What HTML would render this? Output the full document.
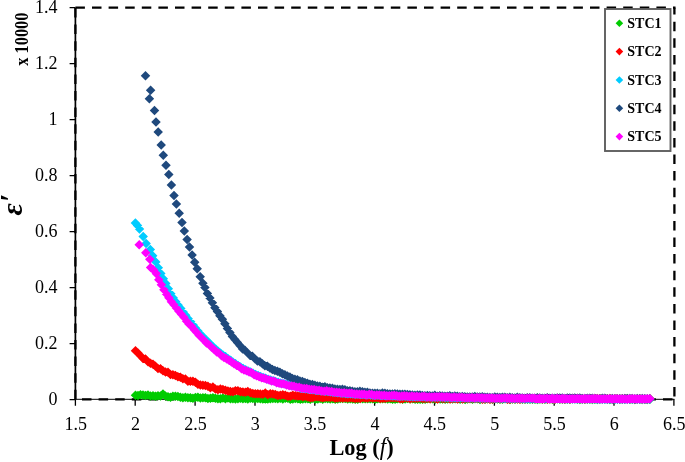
<!DOCTYPE html>
<html><head><meta charset="utf-8"><title>chart</title>
<style>html,body{margin:0;padding:0;background:#fff}body{width:685px;height:462px;position:relative;overflow:hidden}</style></head>
<body>
<svg width="685" height="462" viewBox="0 0 685 462" style="position:absolute;left:0;top:0">
<g stroke="#000" fill="none">
<path d="M75.4,7.7V399.3" stroke-width="1.7"/>
<path d="M75.4,399.3H674.4" stroke-width="1"/>
<path d="M69.6,399.6H75.4M69.6,343.6H75.4M69.6,287.6H75.4M69.6,231.6H75.4M69.6,175.6H75.4M69.6,119.6H75.4M69.6,63.6H75.4M69.6,7.6H75.4M75.4,399.3V405.8M135.2,399.3V405.8M195.1,399.3V405.8M255.0,399.3V405.8M314.8,399.3V405.8M374.6,399.3V405.8M434.5,399.3V405.8M494.4,399.3V405.8M554.2,399.3V405.8M614.0,399.3V405.8M673.9,399.3V405.8" stroke-width="1.3"/>
<path d="M75.4,7.7H675.5" stroke-width="2.3" stroke-dasharray="9.5,7.1"/>
<path d="M674.4,7.7V399.3" stroke-width="2.3" stroke-dasharray="9.5,7.1" stroke-dashoffset="2.6"/>
<path d="M75.4,399.3H674.4" stroke-width="2.3" stroke-dasharray="9.5,7.1" stroke-dashoffset="-6.6"/>
<path d="M75.4,7.7V399.3" stroke-width="2.3" stroke-dasharray="9.5,7.1" stroke-dashoffset="-0.3"/>
</g>
<path d="M135.5,390.6l4.75,4.75l-4.75,4.75l-4.75,-4.75zM138.0,390.8l4.75,4.75l-4.75,4.75l-4.75,-4.75zM140.5,390.0l4.75,4.75l-4.75,4.75l-4.75,-4.75zM143.0,390.3l4.75,4.75l-4.75,4.75l-4.75,-4.75zM145.5,390.7l4.75,4.75l-4.75,4.75l-4.75,-4.75zM148.0,390.2l4.75,4.75l-4.75,4.75l-4.75,-4.75zM150.5,391.3l4.75,4.75l-4.75,4.75l-4.75,-4.75zM153.0,391.1l4.75,4.75l-4.75,4.75l-4.75,-4.75zM155.5,391.5l4.75,4.75l-4.75,4.75l-4.75,-4.75zM158.0,391.0l4.75,4.75l-4.75,4.75l-4.75,-4.75zM160.5,391.2l4.75,4.75l-4.75,4.75l-4.75,-4.75zM163.0,389.3l4.75,4.75l-4.75,4.75l-4.75,-4.75zM165.5,391.2l4.75,4.75l-4.75,4.75l-4.75,-4.75zM168.0,391.9l4.75,4.75l-4.75,4.75l-4.75,-4.75zM170.5,392.4l4.75,4.75l-4.75,4.75l-4.75,-4.75zM172.9,391.5l4.75,4.75l-4.75,4.75l-4.75,-4.75zM175.4,391.6l4.75,4.75l-4.75,4.75l-4.75,-4.75zM177.9,391.8l4.75,4.75l-4.75,4.75l-4.75,-4.75zM180.4,392.4l4.75,4.75l-4.75,4.75l-4.75,-4.75zM182.9,393.0l4.75,4.75l-4.75,4.75l-4.75,-4.75zM185.4,392.5l4.75,4.75l-4.75,4.75l-4.75,-4.75zM187.9,392.9l4.75,4.75l-4.75,4.75l-4.75,-4.75zM190.4,393.0l4.75,4.75l-4.75,4.75l-4.75,-4.75zM192.9,393.4l4.75,4.75l-4.75,4.75l-4.75,-4.75zM195.4,392.7l4.75,4.75l-4.75,4.75l-4.75,-4.75zM197.9,392.6l4.75,4.75l-4.75,4.75l-4.75,-4.75zM200.4,393.2l4.75,4.75l-4.75,4.75l-4.75,-4.75zM202.9,393.1l4.75,4.75l-4.75,4.75l-4.75,-4.75zM205.4,393.1l4.75,4.75l-4.75,4.75l-4.75,-4.75zM207.9,393.7l4.75,4.75l-4.75,4.75l-4.75,-4.75zM210.4,393.6l4.75,4.75l-4.75,4.75l-4.75,-4.75zM212.9,393.1l4.75,4.75l-4.75,4.75l-4.75,-4.75zM215.4,393.6l4.75,4.75l-4.75,4.75l-4.75,-4.75zM217.9,393.9l4.75,4.75l-4.75,4.75l-4.75,-4.75zM220.4,394.0l4.75,4.75l-4.75,4.75l-4.75,-4.75zM222.9,393.2l4.75,4.75l-4.75,4.75l-4.75,-4.75zM225.4,394.0l4.75,4.75l-4.75,4.75l-4.75,-4.75zM227.9,393.3l4.75,4.75l-4.75,4.75l-4.75,-4.75zM230.4,394.0l4.75,4.75l-4.75,4.75l-4.75,-4.75zM232.9,393.9l4.75,4.75l-4.75,4.75l-4.75,-4.75zM235.4,394.3l4.75,4.75l-4.75,4.75l-4.75,-4.75zM237.9,394.0l4.75,4.75l-4.75,4.75l-4.75,-4.75zM240.4,393.5l4.75,4.75l-4.75,4.75l-4.75,-4.75zM242.9,394.1l4.75,4.75l-4.75,4.75l-4.75,-4.75zM245.4,393.7l4.75,4.75l-4.75,4.75l-4.75,-4.75zM247.8,394.2l4.75,4.75l-4.75,4.75l-4.75,-4.75zM250.3,393.5l4.75,4.75l-4.75,4.75l-4.75,-4.75zM252.8,393.8l4.75,4.75l-4.75,4.75l-4.75,-4.75zM255.3,394.1l4.75,4.75l-4.75,4.75l-4.75,-4.75zM257.8,393.7l4.75,4.75l-4.75,4.75l-4.75,-4.75zM260.3,394.1l4.75,4.75l-4.75,4.75l-4.75,-4.75zM262.8,394.2l4.75,4.75l-4.75,4.75l-4.75,-4.75zM265.3,394.2l4.75,4.75l-4.75,4.75l-4.75,-4.75zM267.8,394.3l4.75,4.75l-4.75,4.75l-4.75,-4.75zM270.3,393.9l4.75,4.75l-4.75,4.75l-4.75,-4.75zM272.8,393.7l4.75,4.75l-4.75,4.75l-4.75,-4.75zM275.3,393.8l4.75,4.75l-4.75,4.75l-4.75,-4.75zM277.8,393.9l4.75,4.75l-4.75,4.75l-4.75,-4.75zM280.3,393.6l4.75,4.75l-4.75,4.75l-4.75,-4.75zM282.8,394.2l4.75,4.75l-4.75,4.75l-4.75,-4.75zM285.3,393.6l4.75,4.75l-4.75,4.75l-4.75,-4.75zM287.8,393.6l4.75,4.75l-4.75,4.75l-4.75,-4.75zM290.3,394.4l4.75,4.75l-4.75,4.75l-4.75,-4.75zM292.8,394.3l4.75,4.75l-4.75,4.75l-4.75,-4.75zM295.3,393.8l4.75,4.75l-4.75,4.75l-4.75,-4.75zM297.8,393.9l4.75,4.75l-4.75,4.75l-4.75,-4.75zM300.3,394.4l4.75,4.75l-4.75,4.75l-4.75,-4.75zM302.8,394.2l4.75,4.75l-4.75,4.75l-4.75,-4.75zM305.3,393.9l4.75,4.75l-4.75,4.75l-4.75,-4.75zM307.8,394.0l4.75,4.75l-4.75,4.75l-4.75,-4.75zM310.3,394.4l4.75,4.75l-4.75,4.75l-4.75,-4.75zM312.8,393.6l4.75,4.75l-4.75,4.75l-4.75,-4.75zM315.3,394.5l4.75,4.75l-4.75,4.75l-4.75,-4.75zM317.8,394.2l4.75,4.75l-4.75,4.75l-4.75,-4.75zM320.2,393.8l4.75,4.75l-4.75,4.75l-4.75,-4.75zM322.7,394.4l4.75,4.75l-4.75,4.75l-4.75,-4.75zM325.2,393.7l4.75,4.75l-4.75,4.75l-4.75,-4.75zM327.7,394.0l4.75,4.75l-4.75,4.75l-4.75,-4.75zM330.2,394.2l4.75,4.75l-4.75,4.75l-4.75,-4.75zM332.7,393.9l4.75,4.75l-4.75,4.75l-4.75,-4.75zM335.2,394.5l4.75,4.75l-4.75,4.75l-4.75,-4.75zM337.7,394.3l4.75,4.75l-4.75,4.75l-4.75,-4.75zM340.2,393.8l4.75,4.75l-4.75,4.75l-4.75,-4.75zM342.7,393.8l4.75,4.75l-4.75,4.75l-4.75,-4.75zM345.2,393.7l4.75,4.75l-4.75,4.75l-4.75,-4.75zM347.7,394.2l4.75,4.75l-4.75,4.75l-4.75,-4.75zM350.2,393.9l4.75,4.75l-4.75,4.75l-4.75,-4.75zM352.7,394.2l4.75,4.75l-4.75,4.75l-4.75,-4.75zM355.2,394.4l4.75,4.75l-4.75,4.75l-4.75,-4.75zM357.7,394.5l4.75,4.75l-4.75,4.75l-4.75,-4.75zM360.2,393.8l4.75,4.75l-4.75,4.75l-4.75,-4.75zM362.7,394.0l4.75,4.75l-4.75,4.75l-4.75,-4.75zM365.2,394.1l4.75,4.75l-4.75,4.75l-4.75,-4.75zM367.7,394.1l4.75,4.75l-4.75,4.75l-4.75,-4.75zM370.2,394.1l4.75,4.75l-4.75,4.75l-4.75,-4.75zM372.7,394.1l4.75,4.75l-4.75,4.75l-4.75,-4.75zM375.2,394.4l4.75,4.75l-4.75,4.75l-4.75,-4.75zM377.7,394.0l4.75,4.75l-4.75,4.75l-4.75,-4.75zM380.2,394.0l4.75,4.75l-4.75,4.75l-4.75,-4.75zM382.7,394.1l4.75,4.75l-4.75,4.75l-4.75,-4.75zM385.2,393.9l4.75,4.75l-4.75,4.75l-4.75,-4.75zM387.7,394.3l4.75,4.75l-4.75,4.75l-4.75,-4.75zM390.2,394.1l4.75,4.75l-4.75,4.75l-4.75,-4.75zM392.6,394.6l4.75,4.75l-4.75,4.75l-4.75,-4.75zM395.1,394.5l4.75,4.75l-4.75,4.75l-4.75,-4.75zM397.6,394.0l4.75,4.75l-4.75,4.75l-4.75,-4.75zM400.1,394.0l4.75,4.75l-4.75,4.75l-4.75,-4.75zM402.6,394.5l4.75,4.75l-4.75,4.75l-4.75,-4.75zM405.1,394.3l4.75,4.75l-4.75,4.75l-4.75,-4.75zM407.6,393.8l4.75,4.75l-4.75,4.75l-4.75,-4.75zM410.1,394.3l4.75,4.75l-4.75,4.75l-4.75,-4.75zM412.6,394.1l4.75,4.75l-4.75,4.75l-4.75,-4.75zM415.1,394.5l4.75,4.75l-4.75,4.75l-4.75,-4.75zM417.6,394.4l4.75,4.75l-4.75,4.75l-4.75,-4.75zM420.1,394.6l4.75,4.75l-4.75,4.75l-4.75,-4.75zM422.6,394.4l4.75,4.75l-4.75,4.75l-4.75,-4.75zM425.1,394.6l4.75,4.75l-4.75,4.75l-4.75,-4.75zM427.6,394.0l4.75,4.75l-4.75,4.75l-4.75,-4.75zM430.1,394.1l4.75,4.75l-4.75,4.75l-4.75,-4.75zM432.6,393.9l4.75,4.75l-4.75,4.75l-4.75,-4.75zM435.1,394.6l4.75,4.75l-4.75,4.75l-4.75,-4.75zM437.6,393.9l4.75,4.75l-4.75,4.75l-4.75,-4.75zM440.1,394.3l4.75,4.75l-4.75,4.75l-4.75,-4.75zM442.6,394.3l4.75,4.75l-4.75,4.75l-4.75,-4.75zM445.1,394.5l4.75,4.75l-4.75,4.75l-4.75,-4.75zM447.6,394.2l4.75,4.75l-4.75,4.75l-4.75,-4.75zM450.1,394.0l4.75,4.75l-4.75,4.75l-4.75,-4.75zM452.6,394.2l4.75,4.75l-4.75,4.75l-4.75,-4.75zM455.1,393.9l4.75,4.75l-4.75,4.75l-4.75,-4.75zM457.6,394.1l4.75,4.75l-4.75,4.75l-4.75,-4.75zM460.1,394.4l4.75,4.75l-4.75,4.75l-4.75,-4.75zM462.6,393.9l4.75,4.75l-4.75,4.75l-4.75,-4.75zM465.1,394.7l4.75,4.75l-4.75,4.75l-4.75,-4.75zM467.5,394.3l4.75,4.75l-4.75,4.75l-4.75,-4.75zM470.0,394.1l4.75,4.75l-4.75,4.75l-4.75,-4.75zM472.5,394.6l4.75,4.75l-4.75,4.75l-4.75,-4.75zM475.0,394.0l4.75,4.75l-4.75,4.75l-4.75,-4.75zM477.5,394.1l4.75,4.75l-4.75,4.75l-4.75,-4.75zM480.0,394.7l4.75,4.75l-4.75,4.75l-4.75,-4.75zM482.5,394.1l4.75,4.75l-4.75,4.75l-4.75,-4.75zM485.0,394.5l4.75,4.75l-4.75,4.75l-4.75,-4.75zM487.5,393.9l4.75,4.75l-4.75,4.75l-4.75,-4.75zM490.0,394.3l4.75,4.75l-4.75,4.75l-4.75,-4.75zM492.5,394.4l4.75,4.75l-4.75,4.75l-4.75,-4.75zM495.0,394.1l4.75,4.75l-4.75,4.75l-4.75,-4.75zM497.5,394.2l4.75,4.75l-4.75,4.75l-4.75,-4.75zM500.0,394.4l4.75,4.75l-4.75,4.75l-4.75,-4.75zM502.5,394.4l4.75,4.75l-4.75,4.75l-4.75,-4.75zM505.0,394.0l4.75,4.75l-4.75,4.75l-4.75,-4.75zM507.5,394.2l4.75,4.75l-4.75,4.75l-4.75,-4.75zM510.0,394.7l4.75,4.75l-4.75,4.75l-4.75,-4.75zM512.5,394.2l4.75,4.75l-4.75,4.75l-4.75,-4.75zM515.0,394.6l4.75,4.75l-4.75,4.75l-4.75,-4.75zM517.5,394.1l4.75,4.75l-4.75,4.75l-4.75,-4.75zM520.0,394.3l4.75,4.75l-4.75,4.75l-4.75,-4.75zM522.5,394.4l4.75,4.75l-4.75,4.75l-4.75,-4.75zM525.0,394.4l4.75,4.75l-4.75,4.75l-4.75,-4.75zM527.5,394.5l4.75,4.75l-4.75,4.75l-4.75,-4.75zM530.0,394.6l4.75,4.75l-4.75,4.75l-4.75,-4.75zM532.5,394.5l4.75,4.75l-4.75,4.75l-4.75,-4.75zM535.0,394.6l4.75,4.75l-4.75,4.75l-4.75,-4.75zM537.5,394.7l4.75,4.75l-4.75,4.75l-4.75,-4.75zM539.9,394.2l4.75,4.75l-4.75,4.75l-4.75,-4.75zM542.4,394.6l4.75,4.75l-4.75,4.75l-4.75,-4.75zM544.9,394.4l4.75,4.75l-4.75,4.75l-4.75,-4.75zM547.4,394.2l4.75,4.75l-4.75,4.75l-4.75,-4.75zM549.9,394.1l4.75,4.75l-4.75,4.75l-4.75,-4.75zM552.4,394.6l4.75,4.75l-4.75,4.75l-4.75,-4.75zM554.9,394.5l4.75,4.75l-4.75,4.75l-4.75,-4.75zM557.4,394.0l4.75,4.75l-4.75,4.75l-4.75,-4.75zM559.9,394.4l4.75,4.75l-4.75,4.75l-4.75,-4.75zM562.4,394.0l4.75,4.75l-4.75,4.75l-4.75,-4.75zM564.9,394.3l4.75,4.75l-4.75,4.75l-4.75,-4.75zM567.4,394.4l4.75,4.75l-4.75,4.75l-4.75,-4.75zM569.9,394.5l4.75,4.75l-4.75,4.75l-4.75,-4.75zM572.4,394.1l4.75,4.75l-4.75,4.75l-4.75,-4.75zM574.9,394.0l4.75,4.75l-4.75,4.75l-4.75,-4.75zM577.4,394.5l4.75,4.75l-4.75,4.75l-4.75,-4.75zM579.9,394.7l4.75,4.75l-4.75,4.75l-4.75,-4.75zM582.4,394.6l4.75,4.75l-4.75,4.75l-4.75,-4.75zM584.9,394.3l4.75,4.75l-4.75,4.75l-4.75,-4.75zM587.4,394.5l4.75,4.75l-4.75,4.75l-4.75,-4.75zM589.9,394.6l4.75,4.75l-4.75,4.75l-4.75,-4.75zM592.4,394.7l4.75,4.75l-4.75,4.75l-4.75,-4.75zM594.9,394.4l4.75,4.75l-4.75,4.75l-4.75,-4.75zM597.4,394.7l4.75,4.75l-4.75,4.75l-4.75,-4.75zM599.9,394.3l4.75,4.75l-4.75,4.75l-4.75,-4.75zM602.4,394.2l4.75,4.75l-4.75,4.75l-4.75,-4.75zM604.9,394.2l4.75,4.75l-4.75,4.75l-4.75,-4.75zM607.4,394.6l4.75,4.75l-4.75,4.75l-4.75,-4.75zM609.9,394.7l4.75,4.75l-4.75,4.75l-4.75,-4.75zM612.4,394.4l4.75,4.75l-4.75,4.75l-4.75,-4.75zM614.8,394.6l4.75,4.75l-4.75,4.75l-4.75,-4.75zM617.3,394.1l4.75,4.75l-4.75,4.75l-4.75,-4.75zM619.8,394.4l4.75,4.75l-4.75,4.75l-4.75,-4.75zM622.3,394.4l4.75,4.75l-4.75,4.75l-4.75,-4.75zM624.8,394.4l4.75,4.75l-4.75,4.75l-4.75,-4.75zM627.3,394.2l4.75,4.75l-4.75,4.75l-4.75,-4.75zM629.8,394.5l4.75,4.75l-4.75,4.75l-4.75,-4.75zM632.3,394.6l4.75,4.75l-4.75,4.75l-4.75,-4.75zM634.8,394.6l4.75,4.75l-4.75,4.75l-4.75,-4.75zM637.3,394.6l4.75,4.75l-4.75,4.75l-4.75,-4.75zM639.8,394.4l4.75,4.75l-4.75,4.75l-4.75,-4.75zM642.3,394.7l4.75,4.75l-4.75,4.75l-4.75,-4.75zM644.8,394.5l4.75,4.75l-4.75,4.75l-4.75,-4.75zM647.3,394.8l4.75,4.75l-4.75,4.75l-4.75,-4.75zM649.8,394.4l4.75,4.75l-4.75,4.75l-4.75,-4.75z" fill="#00CC00"/>
<path d="M135.5,346.1l4.75,4.75l-4.75,4.75l-4.75,-4.75zM138.0,348.2l4.75,4.75l-4.75,4.75l-4.75,-4.75zM140.5,350.9l4.75,4.75l-4.75,4.75l-4.75,-4.75zM143.0,353.8l4.75,4.75l-4.75,4.75l-4.75,-4.75zM145.5,354.3l4.75,4.75l-4.75,4.75l-4.75,-4.75zM148.0,356.9l4.75,4.75l-4.75,4.75l-4.75,-4.75zM150.5,358.5l4.75,4.75l-4.75,4.75l-4.75,-4.75zM153.0,359.5l4.75,4.75l-4.75,4.75l-4.75,-4.75zM155.5,361.4l4.75,4.75l-4.75,4.75l-4.75,-4.75zM158.0,363.8l4.75,4.75l-4.75,4.75l-4.75,-4.75zM160.5,364.0l4.75,4.75l-4.75,4.75l-4.75,-4.75zM163.0,365.9l4.75,4.75l-4.75,4.75l-4.75,-4.75zM165.5,367.3l4.75,4.75l-4.75,4.75l-4.75,-4.75zM168.0,367.6l4.75,4.75l-4.75,4.75l-4.75,-4.75zM170.5,369.8l4.75,4.75l-4.75,4.75l-4.75,-4.75zM172.9,370.1l4.75,4.75l-4.75,4.75l-4.75,-4.75zM175.4,370.8l4.75,4.75l-4.75,4.75l-4.75,-4.75zM177.9,372.1l4.75,4.75l-4.75,4.75l-4.75,-4.75zM180.4,372.6l4.75,4.75l-4.75,4.75l-4.75,-4.75zM182.9,374.1l4.75,4.75l-4.75,4.75l-4.75,-4.75zM185.4,374.3l4.75,4.75l-4.75,4.75l-4.75,-4.75zM187.9,376.4l4.75,4.75l-4.75,4.75l-4.75,-4.75zM190.4,376.4l4.75,4.75l-4.75,4.75l-4.75,-4.75zM192.9,376.6l4.75,4.75l-4.75,4.75l-4.75,-4.75zM195.4,377.6l4.75,4.75l-4.75,4.75l-4.75,-4.75zM197.9,379.5l4.75,4.75l-4.75,4.75l-4.75,-4.75zM200.4,380.3l4.75,4.75l-4.75,4.75l-4.75,-4.75zM202.9,380.5l4.75,4.75l-4.75,4.75l-4.75,-4.75zM205.4,380.8l4.75,4.75l-4.75,4.75l-4.75,-4.75zM207.9,381.4l4.75,4.75l-4.75,4.75l-4.75,-4.75zM210.4,383.1l4.75,4.75l-4.75,4.75l-4.75,-4.75zM212.9,382.2l4.75,4.75l-4.75,4.75l-4.75,-4.75zM215.4,384.3l4.75,4.75l-4.75,4.75l-4.75,-4.75zM217.9,384.9l4.75,4.75l-4.75,4.75l-4.75,-4.75zM220.4,384.2l4.75,4.75l-4.75,4.75l-4.75,-4.75zM222.9,384.8l4.75,4.75l-4.75,4.75l-4.75,-4.75zM225.4,385.5l4.75,4.75l-4.75,4.75l-4.75,-4.75zM227.9,386.2l4.75,4.75l-4.75,4.75l-4.75,-4.75zM230.4,386.7l4.75,4.75l-4.75,4.75l-4.75,-4.75zM232.9,387.0l4.75,4.75l-4.75,4.75l-4.75,-4.75zM235.4,386.0l4.75,4.75l-4.75,4.75l-4.75,-4.75zM237.9,386.1l4.75,4.75l-4.75,4.75l-4.75,-4.75zM240.4,386.9l4.75,4.75l-4.75,4.75l-4.75,-4.75zM242.9,387.2l4.75,4.75l-4.75,4.75l-4.75,-4.75zM245.4,387.6l4.75,4.75l-4.75,4.75l-4.75,-4.75zM247.8,386.8l4.75,4.75l-4.75,4.75l-4.75,-4.75zM250.3,387.9l4.75,4.75l-4.75,4.75l-4.75,-4.75zM252.8,388.7l4.75,4.75l-4.75,4.75l-4.75,-4.75zM255.3,388.9l4.75,4.75l-4.75,4.75l-4.75,-4.75zM257.8,389.1l4.75,4.75l-4.75,4.75l-4.75,-4.75zM260.3,389.3l4.75,4.75l-4.75,4.75l-4.75,-4.75zM262.8,389.6l4.75,4.75l-4.75,4.75l-4.75,-4.75zM265.3,388.2l4.75,4.75l-4.75,4.75l-4.75,-4.75zM267.8,389.9l4.75,4.75l-4.75,4.75l-4.75,-4.75zM270.3,389.0l4.75,4.75l-4.75,4.75l-4.75,-4.75zM272.8,389.3l4.75,4.75l-4.75,4.75l-4.75,-4.75zM275.3,389.7l4.75,4.75l-4.75,4.75l-4.75,-4.75zM277.8,390.8l4.75,4.75l-4.75,4.75l-4.75,-4.75zM280.3,390.4l4.75,4.75l-4.75,4.75l-4.75,-4.75zM282.8,390.1l4.75,4.75l-4.75,4.75l-4.75,-4.75zM285.3,390.4l4.75,4.75l-4.75,4.75l-4.75,-4.75zM287.8,391.5l4.75,4.75l-4.75,4.75l-4.75,-4.75zM290.3,391.5l4.75,4.75l-4.75,4.75l-4.75,-4.75zM292.8,390.5l4.75,4.75l-4.75,4.75l-4.75,-4.75zM295.3,390.9l4.75,4.75l-4.75,4.75l-4.75,-4.75zM297.8,391.3l4.75,4.75l-4.75,4.75l-4.75,-4.75zM300.3,391.3l4.75,4.75l-4.75,4.75l-4.75,-4.75zM302.8,392.0l4.75,4.75l-4.75,4.75l-4.75,-4.75zM305.3,391.6l4.75,4.75l-4.75,4.75l-4.75,-4.75zM307.8,392.3l4.75,4.75l-4.75,4.75l-4.75,-4.75zM310.3,392.9l4.75,4.75l-4.75,4.75l-4.75,-4.75zM312.8,392.8l4.75,4.75l-4.75,4.75l-4.75,-4.75zM315.3,391.9l4.75,4.75l-4.75,4.75l-4.75,-4.75zM317.8,392.1l4.75,4.75l-4.75,4.75l-4.75,-4.75zM320.2,392.5l4.75,4.75l-4.75,4.75l-4.75,-4.75zM322.7,392.9l4.75,4.75l-4.75,4.75l-4.75,-4.75zM325.2,392.6l4.75,4.75l-4.75,4.75l-4.75,-4.75zM327.7,392.5l4.75,4.75l-4.75,4.75l-4.75,-4.75zM330.2,392.7l4.75,4.75l-4.75,4.75l-4.75,-4.75zM332.7,392.5l4.75,4.75l-4.75,4.75l-4.75,-4.75zM335.2,393.4l4.75,4.75l-4.75,4.75l-4.75,-4.75zM337.7,393.2l4.75,4.75l-4.75,4.75l-4.75,-4.75zM340.2,392.9l4.75,4.75l-4.75,4.75l-4.75,-4.75zM342.7,393.3l4.75,4.75l-4.75,4.75l-4.75,-4.75zM345.2,393.1l4.75,4.75l-4.75,4.75l-4.75,-4.75zM347.7,393.2l4.75,4.75l-4.75,4.75l-4.75,-4.75zM350.2,393.0l4.75,4.75l-4.75,4.75l-4.75,-4.75zM352.7,393.2l4.75,4.75l-4.75,4.75l-4.75,-4.75zM355.2,393.8l4.75,4.75l-4.75,4.75l-4.75,-4.75zM357.7,393.6l4.75,4.75l-4.75,4.75l-4.75,-4.75zM360.2,393.7l4.75,4.75l-4.75,4.75l-4.75,-4.75zM362.7,392.8l4.75,4.75l-4.75,4.75l-4.75,-4.75zM365.2,393.3l4.75,4.75l-4.75,4.75l-4.75,-4.75zM367.7,393.2l4.75,4.75l-4.75,4.75l-4.75,-4.75zM370.2,392.8l4.75,4.75l-4.75,4.75l-4.75,-4.75zM372.7,393.2l4.75,4.75l-4.75,4.75l-4.75,-4.75zM375.2,392.9l4.75,4.75l-4.75,4.75l-4.75,-4.75zM377.7,393.1l4.75,4.75l-4.75,4.75l-4.75,-4.75zM380.2,393.7l4.75,4.75l-4.75,4.75l-4.75,-4.75zM382.7,393.6l4.75,4.75l-4.75,4.75l-4.75,-4.75zM385.2,393.6l4.75,4.75l-4.75,4.75l-4.75,-4.75zM387.7,392.9l4.75,4.75l-4.75,4.75l-4.75,-4.75zM390.2,393.0l4.75,4.75l-4.75,4.75l-4.75,-4.75zM392.6,392.9l4.75,4.75l-4.75,4.75l-4.75,-4.75zM395.1,393.0l4.75,4.75l-4.75,4.75l-4.75,-4.75zM397.6,393.0l4.75,4.75l-4.75,4.75l-4.75,-4.75zM400.1,394.0l4.75,4.75l-4.75,4.75l-4.75,-4.75zM402.6,393.9l4.75,4.75l-4.75,4.75l-4.75,-4.75zM405.1,393.1l4.75,4.75l-4.75,4.75l-4.75,-4.75zM407.6,393.2l4.75,4.75l-4.75,4.75l-4.75,-4.75zM410.1,394.0l4.75,4.75l-4.75,4.75l-4.75,-4.75zM412.6,393.6l4.75,4.75l-4.75,4.75l-4.75,-4.75zM415.1,393.4l4.75,4.75l-4.75,4.75l-4.75,-4.75zM417.6,393.5l4.75,4.75l-4.75,4.75l-4.75,-4.75zM420.1,393.3l4.75,4.75l-4.75,4.75l-4.75,-4.75zM422.6,393.7l4.75,4.75l-4.75,4.75l-4.75,-4.75zM425.1,393.8l4.75,4.75l-4.75,4.75l-4.75,-4.75zM427.6,393.6l4.75,4.75l-4.75,4.75l-4.75,-4.75zM430.1,394.0l4.75,4.75l-4.75,4.75l-4.75,-4.75zM432.6,393.2l4.75,4.75l-4.75,4.75l-4.75,-4.75zM435.1,393.7l4.75,4.75l-4.75,4.75l-4.75,-4.75zM437.6,394.2l4.75,4.75l-4.75,4.75l-4.75,-4.75zM440.1,393.3l4.75,4.75l-4.75,4.75l-4.75,-4.75zM442.6,393.7l4.75,4.75l-4.75,4.75l-4.75,-4.75zM445.1,393.8l4.75,4.75l-4.75,4.75l-4.75,-4.75zM447.6,393.5l4.75,4.75l-4.75,4.75l-4.75,-4.75zM450.1,394.2l4.75,4.75l-4.75,4.75l-4.75,-4.75zM452.6,393.7l4.75,4.75l-4.75,4.75l-4.75,-4.75zM455.1,393.7l4.75,4.75l-4.75,4.75l-4.75,-4.75zM457.6,394.2l4.75,4.75l-4.75,4.75l-4.75,-4.75zM460.1,393.2l4.75,4.75l-4.75,4.75l-4.75,-4.75zM462.6,394.2l4.75,4.75l-4.75,4.75l-4.75,-4.75zM465.1,393.4l4.75,4.75l-4.75,4.75l-4.75,-4.75zM467.5,393.7l4.75,4.75l-4.75,4.75l-4.75,-4.75zM470.0,393.8l4.75,4.75l-4.75,4.75l-4.75,-4.75zM472.5,393.8l4.75,4.75l-4.75,4.75l-4.75,-4.75zM475.0,393.4l4.75,4.75l-4.75,4.75l-4.75,-4.75zM477.5,393.7l4.75,4.75l-4.75,4.75l-4.75,-4.75zM480.0,393.7l4.75,4.75l-4.75,4.75l-4.75,-4.75zM482.5,394.4l4.75,4.75l-4.75,4.75l-4.75,-4.75zM485.0,394.3l4.75,4.75l-4.75,4.75l-4.75,-4.75zM487.5,394.0l4.75,4.75l-4.75,4.75l-4.75,-4.75zM490.0,394.4l4.75,4.75l-4.75,4.75l-4.75,-4.75zM492.5,394.3l4.75,4.75l-4.75,4.75l-4.75,-4.75zM495.0,393.8l4.75,4.75l-4.75,4.75l-4.75,-4.75zM497.5,393.5l4.75,4.75l-4.75,4.75l-4.75,-4.75zM500.0,394.1l4.75,4.75l-4.75,4.75l-4.75,-4.75zM502.5,393.8l4.75,4.75l-4.75,4.75l-4.75,-4.75zM505.0,393.5l4.75,4.75l-4.75,4.75l-4.75,-4.75zM507.5,394.5l4.75,4.75l-4.75,4.75l-4.75,-4.75zM510.0,394.5l4.75,4.75l-4.75,4.75l-4.75,-4.75zM512.5,394.0l4.75,4.75l-4.75,4.75l-4.75,-4.75zM515.0,394.1l4.75,4.75l-4.75,4.75l-4.75,-4.75zM517.5,394.2l4.75,4.75l-4.75,4.75l-4.75,-4.75zM520.0,394.4l4.75,4.75l-4.75,4.75l-4.75,-4.75zM522.5,394.0l4.75,4.75l-4.75,4.75l-4.75,-4.75zM525.0,394.1l4.75,4.75l-4.75,4.75l-4.75,-4.75zM527.5,393.8l4.75,4.75l-4.75,4.75l-4.75,-4.75zM530.0,393.8l4.75,4.75l-4.75,4.75l-4.75,-4.75zM532.5,394.1l4.75,4.75l-4.75,4.75l-4.75,-4.75zM535.0,393.8l4.75,4.75l-4.75,4.75l-4.75,-4.75zM537.5,393.6l4.75,4.75l-4.75,4.75l-4.75,-4.75zM539.9,393.9l4.75,4.75l-4.75,4.75l-4.75,-4.75zM542.4,394.3l4.75,4.75l-4.75,4.75l-4.75,-4.75zM544.9,393.9l4.75,4.75l-4.75,4.75l-4.75,-4.75zM547.4,394.5l4.75,4.75l-4.75,4.75l-4.75,-4.75zM549.9,394.3l4.75,4.75l-4.75,4.75l-4.75,-4.75zM552.4,394.3l4.75,4.75l-4.75,4.75l-4.75,-4.75zM554.9,394.5l4.75,4.75l-4.75,4.75l-4.75,-4.75zM557.4,393.7l4.75,4.75l-4.75,4.75l-4.75,-4.75zM559.9,393.8l4.75,4.75l-4.75,4.75l-4.75,-4.75zM562.4,394.5l4.75,4.75l-4.75,4.75l-4.75,-4.75zM564.9,394.5l4.75,4.75l-4.75,4.75l-4.75,-4.75zM567.4,393.7l4.75,4.75l-4.75,4.75l-4.75,-4.75zM569.9,394.4l4.75,4.75l-4.75,4.75l-4.75,-4.75zM572.4,393.7l4.75,4.75l-4.75,4.75l-4.75,-4.75zM574.9,393.8l4.75,4.75l-4.75,4.75l-4.75,-4.75zM577.4,393.8l4.75,4.75l-4.75,4.75l-4.75,-4.75zM579.9,394.0l4.75,4.75l-4.75,4.75l-4.75,-4.75zM582.4,394.1l4.75,4.75l-4.75,4.75l-4.75,-4.75zM584.9,394.6l4.75,4.75l-4.75,4.75l-4.75,-4.75zM587.4,394.1l4.75,4.75l-4.75,4.75l-4.75,-4.75zM589.9,393.8l4.75,4.75l-4.75,4.75l-4.75,-4.75zM592.4,394.0l4.75,4.75l-4.75,4.75l-4.75,-4.75zM594.9,393.7l4.75,4.75l-4.75,4.75l-4.75,-4.75zM597.4,393.7l4.75,4.75l-4.75,4.75l-4.75,-4.75zM599.9,394.1l4.75,4.75l-4.75,4.75l-4.75,-4.75zM602.4,394.2l4.75,4.75l-4.75,4.75l-4.75,-4.75zM604.9,394.0l4.75,4.75l-4.75,4.75l-4.75,-4.75zM607.4,394.1l4.75,4.75l-4.75,4.75l-4.75,-4.75zM609.9,393.8l4.75,4.75l-4.75,4.75l-4.75,-4.75zM612.4,394.4l4.75,4.75l-4.75,4.75l-4.75,-4.75zM614.8,394.1l4.75,4.75l-4.75,4.75l-4.75,-4.75zM617.3,393.9l4.75,4.75l-4.75,4.75l-4.75,-4.75zM619.8,394.2l4.75,4.75l-4.75,4.75l-4.75,-4.75zM622.3,394.0l4.75,4.75l-4.75,4.75l-4.75,-4.75zM624.8,394.0l4.75,4.75l-4.75,4.75l-4.75,-4.75zM627.3,393.9l4.75,4.75l-4.75,4.75l-4.75,-4.75zM629.8,394.5l4.75,4.75l-4.75,4.75l-4.75,-4.75zM632.3,394.0l4.75,4.75l-4.75,4.75l-4.75,-4.75zM634.8,394.7l4.75,4.75l-4.75,4.75l-4.75,-4.75zM637.3,394.2l4.75,4.75l-4.75,4.75l-4.75,-4.75zM639.8,393.9l4.75,4.75l-4.75,4.75l-4.75,-4.75zM642.3,394.4l4.75,4.75l-4.75,4.75l-4.75,-4.75zM644.8,394.5l4.75,4.75l-4.75,4.75l-4.75,-4.75zM647.3,394.6l4.75,4.75l-4.75,4.75l-4.75,-4.75zM649.8,393.9l4.75,4.75l-4.75,4.75l-4.75,-4.75z" fill="#FF0000"/>
<path d="M135.4,218.2l4.75,4.75l-4.75,4.75l-4.75,-4.75zM137.5,220.8l4.75,4.75l-4.75,4.75l-4.75,-4.75zM139.5,224.3l4.75,4.75l-4.75,4.75l-4.75,-4.75zM143.2,231.7l4.75,4.75l-4.75,4.75l-4.75,-4.75zM146.1,238.8l4.75,4.75l-4.75,4.75l-4.75,-4.75zM150.3,244.8l4.75,4.75l-4.75,4.75l-4.75,-4.75zM152.7,251.1l4.75,4.75l-4.75,4.75l-4.75,-4.75zM155.8,257.2l4.75,4.75l-4.75,4.75l-4.75,-4.75zM158.3,262.9l4.75,4.75l-4.75,4.75l-4.75,-4.75zM160.8,268.8l4.75,4.75l-4.75,4.75l-4.75,-4.75zM163.3,274.0l4.75,4.75l-4.75,4.75l-4.75,-4.75zM165.8,278.7l4.75,4.75l-4.75,4.75l-4.75,-4.75zM168.3,283.9l4.75,4.75l-4.75,4.75l-4.75,-4.75zM170.8,288.9l4.75,4.75l-4.75,4.75l-4.75,-4.75zM173.3,293.2l4.75,4.75l-4.75,4.75l-4.75,-4.75zM175.8,297.0l4.75,4.75l-4.75,4.75l-4.75,-4.75zM178.3,300.4l4.75,4.75l-4.75,4.75l-4.75,-4.75zM180.8,303.8l4.75,4.75l-4.75,4.75l-4.75,-4.75zM183.2,307.2l4.75,4.75l-4.75,4.75l-4.75,-4.75zM185.7,310.6l4.75,4.75l-4.75,4.75l-4.75,-4.75zM188.2,313.9l4.75,4.75l-4.75,4.75l-4.75,-4.75zM190.7,317.1l4.75,4.75l-4.75,4.75l-4.75,-4.75zM193.2,320.3l4.75,4.75l-4.75,4.75l-4.75,-4.75zM195.7,323.5l4.75,4.75l-4.75,4.75l-4.75,-4.75zM198.2,326.6l4.75,4.75l-4.75,4.75l-4.75,-4.75zM200.7,329.4l4.75,4.75l-4.75,4.75l-4.75,-4.75zM203.2,332.1l4.75,4.75l-4.75,4.75l-4.75,-4.75zM205.7,334.7l4.75,4.75l-4.75,4.75l-4.75,-4.75zM208.2,337.1l4.75,4.75l-4.75,4.75l-4.75,-4.75zM210.7,339.5l4.75,4.75l-4.75,4.75l-4.75,-4.75zM213.2,341.9l4.75,4.75l-4.75,4.75l-4.75,-4.75zM215.7,344.2l4.75,4.75l-4.75,4.75l-4.75,-4.75zM218.2,346.4l4.75,4.75l-4.75,4.75l-4.75,-4.75zM220.7,348.5l4.75,4.75l-4.75,4.75l-4.75,-4.75zM223.2,350.4l4.75,4.75l-4.75,4.75l-4.75,-4.75zM225.7,352.1l4.75,4.75l-4.75,4.75l-4.75,-4.75zM228.2,353.9l4.75,4.75l-4.75,4.75l-4.75,-4.75zM230.7,355.6l4.75,4.75l-4.75,4.75l-4.75,-4.75zM233.1,357.4l4.75,4.75l-4.75,4.75l-4.75,-4.75zM235.6,359.1l4.75,4.75l-4.75,4.75l-4.75,-4.75zM238.1,360.8l4.75,4.75l-4.75,4.75l-4.75,-4.75zM240.6,362.3l4.75,4.75l-4.75,4.75l-4.75,-4.75zM243.1,363.7l4.75,4.75l-4.75,4.75l-4.75,-4.75zM245.6,365.0l4.75,4.75l-4.75,4.75l-4.75,-4.75zM248.1,366.2l4.75,4.75l-4.75,4.75l-4.75,-4.75zM250.6,367.3l4.75,4.75l-4.75,4.75l-4.75,-4.75zM253.1,368.5l4.75,4.75l-4.75,4.75l-4.75,-4.75zM255.6,369.7l4.75,4.75l-4.75,4.75l-4.75,-4.75zM258.1,370.8l4.75,4.75l-4.75,4.75l-4.75,-4.75zM260.6,371.8l4.75,4.75l-4.75,4.75l-4.75,-4.75zM263.1,372.7l4.75,4.75l-4.75,4.75l-4.75,-4.75zM265.6,373.6l4.75,4.75l-4.75,4.75l-4.75,-4.75zM268.1,374.4l4.75,4.75l-4.75,4.75l-4.75,-4.75zM270.6,375.2l4.75,4.75l-4.75,4.75l-4.75,-4.75zM273.1,376.0l4.75,4.75l-4.75,4.75l-4.75,-4.75zM275.6,376.8l4.75,4.75l-4.75,4.75l-4.75,-4.75zM278.1,377.5l4.75,4.75l-4.75,4.75l-4.75,-4.75zM280.6,378.2l4.75,4.75l-4.75,4.75l-4.75,-4.75zM283.0,378.8l4.75,4.75l-4.75,4.75l-4.75,-4.75zM285.5,379.3l4.75,4.75l-4.75,4.75l-4.75,-4.75zM288.0,379.8l4.75,4.75l-4.75,4.75l-4.75,-4.75zM290.5,380.4l4.75,4.75l-4.75,4.75l-4.75,-4.75zM293.0,381.0l4.75,4.75l-4.75,4.75l-4.75,-4.75zM295.5,381.5l4.75,4.75l-4.75,4.75l-4.75,-4.75zM298.0,382.1l4.75,4.75l-4.75,4.75l-4.75,-4.75zM300.5,383.4l4.75,4.75l-4.75,4.75l-4.75,-4.75zM303.0,383.8l4.75,4.75l-4.75,4.75l-4.75,-4.75zM305.5,384.1l4.75,4.75l-4.75,4.75l-4.75,-4.75zM308.0,384.5l4.75,4.75l-4.75,4.75l-4.75,-4.75zM310.5,384.8l4.75,4.75l-4.75,4.75l-4.75,-4.75zM313.0,385.1l4.75,4.75l-4.75,4.75l-4.75,-4.75zM315.5,385.4l4.75,4.75l-4.75,4.75l-4.75,-4.75zM318.0,385.7l4.75,4.75l-4.75,4.75l-4.75,-4.75zM320.5,386.0l4.75,4.75l-4.75,4.75l-4.75,-4.75zM323.0,386.3l4.75,4.75l-4.75,4.75l-4.75,-4.75zM325.5,386.6l4.75,4.75l-4.75,4.75l-4.75,-4.75zM328.0,386.8l4.75,4.75l-4.75,4.75l-4.75,-4.75zM330.4,387.1l4.75,4.75l-4.75,4.75l-4.75,-4.75zM332.9,387.4l4.75,4.75l-4.75,4.75l-4.75,-4.75zM335.4,387.6l4.75,4.75l-4.75,4.75l-4.75,-4.75zM337.9,387.9l4.75,4.75l-4.75,4.75l-4.75,-4.75zM340.4,388.2l4.75,4.75l-4.75,4.75l-4.75,-4.75zM342.9,388.4l4.75,4.75l-4.75,4.75l-4.75,-4.75zM345.4,388.7l4.75,4.75l-4.75,4.75l-4.75,-4.75zM347.9,388.9l4.75,4.75l-4.75,4.75l-4.75,-4.75zM350.4,389.1l4.75,4.75l-4.75,4.75l-4.75,-4.75zM352.9,389.2l4.75,4.75l-4.75,4.75l-4.75,-4.75zM355.4,389.4l4.75,4.75l-4.75,4.75l-4.75,-4.75zM357.9,389.5l4.75,4.75l-4.75,4.75l-4.75,-4.75zM360.4,389.7l4.75,4.75l-4.75,4.75l-4.75,-4.75zM362.9,389.8l4.75,4.75l-4.75,4.75l-4.75,-4.75zM365.4,390.0l4.75,4.75l-4.75,4.75l-4.75,-4.75zM367.9,390.1l4.75,4.75l-4.75,4.75l-4.75,-4.75zM370.4,390.3l4.75,4.75l-4.75,4.75l-4.75,-4.75zM372.9,390.4l4.75,4.75l-4.75,4.75l-4.75,-4.75zM375.4,390.5l4.75,4.75l-4.75,4.75l-4.75,-4.75zM377.9,390.6l4.75,4.75l-4.75,4.75l-4.75,-4.75zM380.3,390.7l4.75,4.75l-4.75,4.75l-4.75,-4.75zM382.8,390.8l4.75,4.75l-4.75,4.75l-4.75,-4.75zM385.3,390.9l4.75,4.75l-4.75,4.75l-4.75,-4.75zM387.8,391.0l4.75,4.75l-4.75,4.75l-4.75,-4.75zM390.3,391.1l4.75,4.75l-4.75,4.75l-4.75,-4.75zM392.8,391.2l4.75,4.75l-4.75,4.75l-4.75,-4.75zM395.3,391.3l4.75,4.75l-4.75,4.75l-4.75,-4.75zM397.8,391.4l4.75,4.75l-4.75,4.75l-4.75,-4.75zM400.3,391.5l4.75,4.75l-4.75,4.75l-4.75,-4.75zM402.8,391.6l4.75,4.75l-4.75,4.75l-4.75,-4.75zM405.3,391.6l4.75,4.75l-4.75,4.75l-4.75,-4.75zM407.8,391.7l4.75,4.75l-4.75,4.75l-4.75,-4.75zM410.3,391.8l4.75,4.75l-4.75,4.75l-4.75,-4.75zM412.8,391.9l4.75,4.75l-4.75,4.75l-4.75,-4.75zM415.3,391.9l4.75,4.75l-4.75,4.75l-4.75,-4.75zM417.8,392.0l4.75,4.75l-4.75,4.75l-4.75,-4.75zM420.3,392.1l4.75,4.75l-4.75,4.75l-4.75,-4.75zM422.8,392.1l4.75,4.75l-4.75,4.75l-4.75,-4.75zM425.3,392.2l4.75,4.75l-4.75,4.75l-4.75,-4.75zM427.8,392.3l4.75,4.75l-4.75,4.75l-4.75,-4.75zM430.2,392.3l4.75,4.75l-4.75,4.75l-4.75,-4.75zM432.7,392.4l4.75,4.75l-4.75,4.75l-4.75,-4.75zM435.2,392.4l4.75,4.75l-4.75,4.75l-4.75,-4.75zM437.7,392.5l4.75,4.75l-4.75,4.75l-4.75,-4.75zM440.2,392.6l4.75,4.75l-4.75,4.75l-4.75,-4.75zM442.7,392.6l4.75,4.75l-4.75,4.75l-4.75,-4.75zM445.2,392.7l4.75,4.75l-4.75,4.75l-4.75,-4.75zM447.7,392.7l4.75,4.75l-4.75,4.75l-4.75,-4.75zM450.2,392.8l4.75,4.75l-4.75,4.75l-4.75,-4.75zM452.7,392.9l4.75,4.75l-4.75,4.75l-4.75,-4.75zM455.2,392.9l4.75,4.75l-4.75,4.75l-4.75,-4.75zM457.7,393.0l4.75,4.75l-4.75,4.75l-4.75,-4.75zM460.2,393.0l4.75,4.75l-4.75,4.75l-4.75,-4.75zM462.7,393.1l4.75,4.75l-4.75,4.75l-4.75,-4.75zM465.2,393.1l4.75,4.75l-4.75,4.75l-4.75,-4.75zM467.7,393.2l4.75,4.75l-4.75,4.75l-4.75,-4.75zM470.2,393.2l4.75,4.75l-4.75,4.75l-4.75,-4.75zM472.7,393.2l4.75,4.75l-4.75,4.75l-4.75,-4.75zM475.2,393.3l4.75,4.75l-4.75,4.75l-4.75,-4.75zM477.7,393.3l4.75,4.75l-4.75,4.75l-4.75,-4.75zM480.1,393.4l4.75,4.75l-4.75,4.75l-4.75,-4.75zM482.6,393.4l4.75,4.75l-4.75,4.75l-4.75,-4.75zM485.1,393.4l4.75,4.75l-4.75,4.75l-4.75,-4.75zM487.6,393.5l4.75,4.75l-4.75,4.75l-4.75,-4.75zM490.1,393.5l4.75,4.75l-4.75,4.75l-4.75,-4.75zM492.6,393.5l4.75,4.75l-4.75,4.75l-4.75,-4.75zM495.1,393.6l4.75,4.75l-4.75,4.75l-4.75,-4.75zM497.6,393.6l4.75,4.75l-4.75,4.75l-4.75,-4.75zM500.1,393.6l4.75,4.75l-4.75,4.75l-4.75,-4.75zM502.6,393.7l4.75,4.75l-4.75,4.75l-4.75,-4.75zM505.1,393.7l4.75,4.75l-4.75,4.75l-4.75,-4.75zM507.6,393.7l4.75,4.75l-4.75,4.75l-4.75,-4.75zM510.1,393.7l4.75,4.75l-4.75,4.75l-4.75,-4.75zM512.6,393.8l4.75,4.75l-4.75,4.75l-4.75,-4.75zM515.1,393.8l4.75,4.75l-4.75,4.75l-4.75,-4.75zM517.6,393.8l4.75,4.75l-4.75,4.75l-4.75,-4.75zM520.1,393.8l4.75,4.75l-4.75,4.75l-4.75,-4.75zM522.6,393.9l4.75,4.75l-4.75,4.75l-4.75,-4.75zM525.1,393.9l4.75,4.75l-4.75,4.75l-4.75,-4.75zM527.5,393.9l4.75,4.75l-4.75,4.75l-4.75,-4.75zM530.0,393.9l4.75,4.75l-4.75,4.75l-4.75,-4.75zM532.5,394.0l4.75,4.75l-4.75,4.75l-4.75,-4.75zM535.0,394.0l4.75,4.75l-4.75,4.75l-4.75,-4.75zM537.5,394.0l4.75,4.75l-4.75,4.75l-4.75,-4.75zM540.0,394.0l4.75,4.75l-4.75,4.75l-4.75,-4.75zM542.5,394.0l4.75,4.75l-4.75,4.75l-4.75,-4.75zM545.0,394.0l4.75,4.75l-4.75,4.75l-4.75,-4.75zM547.5,394.1l4.75,4.75l-4.75,4.75l-4.75,-4.75zM550.0,394.1l4.75,4.75l-4.75,4.75l-4.75,-4.75zM552.5,394.1l4.75,4.75l-4.75,4.75l-4.75,-4.75zM555.0,394.1l4.75,4.75l-4.75,4.75l-4.75,-4.75zM557.5,394.1l4.75,4.75l-4.75,4.75l-4.75,-4.75zM560.0,394.1l4.75,4.75l-4.75,4.75l-4.75,-4.75zM562.5,394.2l4.75,4.75l-4.75,4.75l-4.75,-4.75zM565.0,394.2l4.75,4.75l-4.75,4.75l-4.75,-4.75zM567.5,394.2l4.75,4.75l-4.75,4.75l-4.75,-4.75zM570.0,394.2l4.75,4.75l-4.75,4.75l-4.75,-4.75zM572.5,394.2l4.75,4.75l-4.75,4.75l-4.75,-4.75zM575.0,394.2l4.75,4.75l-4.75,4.75l-4.75,-4.75zM577.4,394.3l4.75,4.75l-4.75,4.75l-4.75,-4.75zM579.9,394.3l4.75,4.75l-4.75,4.75l-4.75,-4.75zM582.4,394.3l4.75,4.75l-4.75,4.75l-4.75,-4.75zM584.9,394.3l4.75,4.75l-4.75,4.75l-4.75,-4.75zM587.4,394.3l4.75,4.75l-4.75,4.75l-4.75,-4.75zM589.9,394.3l4.75,4.75l-4.75,4.75l-4.75,-4.75zM592.4,394.3l4.75,4.75l-4.75,4.75l-4.75,-4.75zM594.9,394.3l4.75,4.75l-4.75,4.75l-4.75,-4.75zM597.4,394.4l4.75,4.75l-4.75,4.75l-4.75,-4.75zM599.9,394.4l4.75,4.75l-4.75,4.75l-4.75,-4.75zM602.4,394.4l4.75,4.75l-4.75,4.75l-4.75,-4.75zM604.9,394.4l4.75,4.75l-4.75,4.75l-4.75,-4.75zM607.4,394.4l4.75,4.75l-4.75,4.75l-4.75,-4.75zM609.9,394.4l4.75,4.75l-4.75,4.75l-4.75,-4.75zM612.4,394.4l4.75,4.75l-4.75,4.75l-4.75,-4.75zM614.9,394.4l4.75,4.75l-4.75,4.75l-4.75,-4.75zM617.4,394.5l4.75,4.75l-4.75,4.75l-4.75,-4.75zM619.9,394.5l4.75,4.75l-4.75,4.75l-4.75,-4.75zM622.4,394.5l4.75,4.75l-4.75,4.75l-4.75,-4.75zM624.9,394.5l4.75,4.75l-4.75,4.75l-4.75,-4.75zM627.3,394.5l4.75,4.75l-4.75,4.75l-4.75,-4.75zM629.8,394.5l4.75,4.75l-4.75,4.75l-4.75,-4.75zM632.3,394.5l4.75,4.75l-4.75,4.75l-4.75,-4.75zM634.8,394.5l4.75,4.75l-4.75,4.75l-4.75,-4.75zM637.3,394.5l4.75,4.75l-4.75,4.75l-4.75,-4.75zM639.8,394.5l4.75,4.75l-4.75,4.75l-4.75,-4.75zM642.3,394.5l4.75,4.75l-4.75,4.75l-4.75,-4.75zM644.8,394.5l4.75,4.75l-4.75,4.75l-4.75,-4.75zM647.3,394.5l4.75,4.75l-4.75,4.75l-4.75,-4.75zM649.8,394.5l4.75,4.75l-4.75,4.75l-4.75,-4.75z" fill="#00CCFF"/>
<path d="M145.5,70.9l4.75,4.75l-4.75,4.75l-4.75,-4.75zM150.6,85.4l4.75,4.75l-4.75,4.75l-4.75,-4.75zM149.4,93.9l4.75,4.75l-4.75,4.75l-4.75,-4.75zM154.5,105.7l4.75,4.75l-4.75,4.75l-4.75,-4.75zM156.0,117.2l4.75,4.75l-4.75,4.75l-4.75,-4.75zM158.2,127.2l4.75,4.75l-4.75,4.75l-4.75,-4.75zM161.2,140.2l4.75,4.75l-4.75,4.75l-4.75,-4.75zM163.3,150.5l4.75,4.75l-4.75,4.75l-4.75,-4.75zM166.0,160.5l4.75,4.75l-4.75,4.75l-4.75,-4.75zM168.8,169.8l4.75,4.75l-4.75,4.75l-4.75,-4.75zM171.4,180.2l4.75,4.75l-4.75,4.75l-4.75,-4.75zM174.0,190.8l4.75,4.75l-4.75,4.75l-4.75,-4.75zM176.4,199.2l4.75,4.75l-4.75,4.75l-4.75,-4.75zM179.2,208.6l4.75,4.75l-4.75,4.75l-4.75,-4.75zM182.0,217.8l4.75,4.75l-4.75,4.75l-4.75,-4.75zM184.3,226.2l4.75,4.75l-4.75,4.75l-4.75,-4.75zM187.1,234.7l4.75,4.75l-4.75,4.75l-4.75,-4.75zM189.5,242.3l4.75,4.75l-4.75,4.75l-4.75,-4.75zM192.1,250.2l4.75,4.75l-4.75,4.75l-4.75,-4.75zM194.7,257.6l4.75,4.75l-4.75,4.75l-4.75,-4.75zM197.2,264.1l4.75,4.75l-4.75,4.75l-4.75,-4.75zM200.2,272.0l4.75,4.75l-4.75,4.75l-4.75,-4.75zM202.9,278.6l4.75,4.75l-4.75,4.75l-4.75,-4.75zM204.9,282.8l4.75,4.75l-4.75,4.75l-4.75,-4.75zM207.4,288.8l4.75,4.75l-4.75,4.75l-4.75,-4.75zM209.9,293.3l4.75,4.75l-4.75,4.75l-4.75,-4.75zM212.4,298.1l4.75,4.75l-4.75,4.75l-4.75,-4.75zM214.9,302.9l4.75,4.75l-4.75,4.75l-4.75,-4.75zM217.4,306.8l4.75,4.75l-4.75,4.75l-4.75,-4.75zM219.9,310.9l4.75,4.75l-4.75,4.75l-4.75,-4.75zM222.4,314.5l4.75,4.75l-4.75,4.75l-4.75,-4.75zM224.9,319.1l4.75,4.75l-4.75,4.75l-4.75,-4.75zM227.4,323.7l4.75,4.75l-4.75,4.75l-4.75,-4.75zM229.9,327.8l4.75,4.75l-4.75,4.75l-4.75,-4.75zM232.4,331.7l4.75,4.75l-4.75,4.75l-4.75,-4.75zM234.9,334.7l4.75,4.75l-4.75,4.75l-4.75,-4.75zM237.4,337.7l4.75,4.75l-4.75,4.75l-4.75,-4.75zM239.9,340.8l4.75,4.75l-4.75,4.75l-4.75,-4.75zM242.4,344.0l4.75,4.75l-4.75,4.75l-4.75,-4.75zM244.9,345.6l4.75,4.75l-4.75,4.75l-4.75,-4.75zM247.4,348.0l4.75,4.75l-4.75,4.75l-4.75,-4.75zM249.9,350.5l4.75,4.75l-4.75,4.75l-4.75,-4.75zM252.4,351.6l4.75,4.75l-4.75,4.75l-4.75,-4.75zM254.9,354.0l4.75,4.75l-4.75,4.75l-4.75,-4.75zM257.4,356.2l4.75,4.75l-4.75,4.75l-4.75,-4.75zM259.9,357.1l4.75,4.75l-4.75,4.75l-4.75,-4.75zM262.4,359.0l4.75,4.75l-4.75,4.75l-4.75,-4.75zM264.9,360.9l4.75,4.75l-4.75,4.75l-4.75,-4.75zM267.4,361.5l4.75,4.75l-4.75,4.75l-4.75,-4.75zM269.9,363.2l4.75,4.75l-4.75,4.75l-4.75,-4.75zM272.4,364.7l4.75,4.75l-4.75,4.75l-4.75,-4.75zM274.9,365.7l4.75,4.75l-4.75,4.75l-4.75,-4.75zM277.4,366.6l4.75,4.75l-4.75,4.75l-4.75,-4.75zM279.9,367.5l4.75,4.75l-4.75,4.75l-4.75,-4.75zM282.4,369.0l4.75,4.75l-4.75,4.75l-4.75,-4.75zM284.9,370.0l4.75,4.75l-4.75,4.75l-4.75,-4.75zM287.4,371.3l4.75,4.75l-4.75,4.75l-4.75,-4.75zM289.9,372.3l4.75,4.75l-4.75,4.75l-4.75,-4.75zM292.4,373.7l4.75,4.75l-4.75,4.75l-4.75,-4.75zM294.9,374.6l4.75,4.75l-4.75,4.75l-4.75,-4.75zM297.4,375.0l4.75,4.75l-4.75,4.75l-4.75,-4.75zM299.9,376.2l4.75,4.75l-4.75,4.75l-4.75,-4.75zM302.4,376.8l4.75,4.75l-4.75,4.75l-4.75,-4.75zM304.9,377.8l4.75,4.75l-4.75,4.75l-4.75,-4.75zM307.4,378.5l4.75,4.75l-4.75,4.75l-4.75,-4.75zM309.9,379.5l4.75,4.75l-4.75,4.75l-4.75,-4.75zM312.4,379.8l4.75,4.75l-4.75,4.75l-4.75,-4.75zM314.9,380.4l4.75,4.75l-4.75,4.75l-4.75,-4.75zM317.4,381.2l4.75,4.75l-4.75,4.75l-4.75,-4.75zM319.9,381.4l4.75,4.75l-4.75,4.75l-4.75,-4.75zM322.4,382.4l4.75,4.75l-4.75,4.75l-4.75,-4.75zM324.9,382.1l4.75,4.75l-4.75,4.75l-4.75,-4.75zM327.4,383.1l4.75,4.75l-4.75,4.75l-4.75,-4.75zM329.9,383.2l4.75,4.75l-4.75,4.75l-4.75,-4.75zM332.4,383.6l4.75,4.75l-4.75,4.75l-4.75,-4.75zM334.9,384.2l4.75,4.75l-4.75,4.75l-4.75,-4.75zM337.4,384.4l4.75,4.75l-4.75,4.75l-4.75,-4.75zM339.9,384.7l4.75,4.75l-4.75,4.75l-4.75,-4.75zM342.4,384.6l4.75,4.75l-4.75,4.75l-4.75,-4.75zM344.9,385.0l4.75,4.75l-4.75,4.75l-4.75,-4.75zM347.4,386.0l4.75,4.75l-4.75,4.75l-4.75,-4.75zM349.9,386.1l4.75,4.75l-4.75,4.75l-4.75,-4.75zM352.4,386.5l4.75,4.75l-4.75,4.75l-4.75,-4.75zM354.9,387.0l4.75,4.75l-4.75,4.75l-4.75,-4.75zM357.4,387.0l4.75,4.75l-4.75,4.75l-4.75,-4.75zM359.9,386.6l4.75,4.75l-4.75,4.75l-4.75,-4.75zM362.4,387.0l4.75,4.75l-4.75,4.75l-4.75,-4.75zM364.9,387.5l4.75,4.75l-4.75,4.75l-4.75,-4.75zM367.4,387.4l4.75,4.75l-4.75,4.75l-4.75,-4.75zM369.9,388.3l4.75,4.75l-4.75,4.75l-4.75,-4.75zM372.4,388.5l4.75,4.75l-4.75,4.75l-4.75,-4.75zM374.9,388.6l4.75,4.75l-4.75,4.75l-4.75,-4.75zM377.4,388.4l4.75,4.75l-4.75,4.75l-4.75,-4.75zM379.9,388.9l4.75,4.75l-4.75,4.75l-4.75,-4.75zM382.4,388.3l4.75,4.75l-4.75,4.75l-4.75,-4.75zM384.9,388.6l4.75,4.75l-4.75,4.75l-4.75,-4.75zM387.4,388.9l4.75,4.75l-4.75,4.75l-4.75,-4.75zM389.9,389.3l4.75,4.75l-4.75,4.75l-4.75,-4.75zM392.4,389.2l4.75,4.75l-4.75,4.75l-4.75,-4.75zM394.9,389.0l4.75,4.75l-4.75,4.75l-4.75,-4.75zM397.4,389.3l4.75,4.75l-4.75,4.75l-4.75,-4.75zM399.9,389.4l4.75,4.75l-4.75,4.75l-4.75,-4.75zM402.4,389.5l4.75,4.75l-4.75,4.75l-4.75,-4.75zM404.9,389.4l4.75,4.75l-4.75,4.75l-4.75,-4.75zM407.4,389.8l4.75,4.75l-4.75,4.75l-4.75,-4.75zM409.9,389.9l4.75,4.75l-4.75,4.75l-4.75,-4.75zM412.4,390.3l4.75,4.75l-4.75,4.75l-4.75,-4.75zM414.9,390.4l4.75,4.75l-4.75,4.75l-4.75,-4.75zM417.4,390.3l4.75,4.75l-4.75,4.75l-4.75,-4.75zM419.9,390.3l4.75,4.75l-4.75,4.75l-4.75,-4.75zM422.4,390.7l4.75,4.75l-4.75,4.75l-4.75,-4.75zM424.9,390.9l4.75,4.75l-4.75,4.75l-4.75,-4.75zM427.4,390.8l4.75,4.75l-4.75,4.75l-4.75,-4.75zM429.8,391.0l4.75,4.75l-4.75,4.75l-4.75,-4.75zM432.3,391.2l4.75,4.75l-4.75,4.75l-4.75,-4.75zM434.8,390.5l4.75,4.75l-4.75,4.75l-4.75,-4.75zM437.3,391.4l4.75,4.75l-4.75,4.75l-4.75,-4.75zM439.8,390.9l4.75,4.75l-4.75,4.75l-4.75,-4.75zM442.3,391.2l4.75,4.75l-4.75,4.75l-4.75,-4.75zM444.8,391.5l4.75,4.75l-4.75,4.75l-4.75,-4.75zM447.3,391.6l4.75,4.75l-4.75,4.75l-4.75,-4.75zM449.8,391.1l4.75,4.75l-4.75,4.75l-4.75,-4.75zM452.3,391.7l4.75,4.75l-4.75,4.75l-4.75,-4.75zM454.8,391.2l4.75,4.75l-4.75,4.75l-4.75,-4.75zM457.3,391.6l4.75,4.75l-4.75,4.75l-4.75,-4.75zM459.8,392.0l4.75,4.75l-4.75,4.75l-4.75,-4.75zM462.3,391.8l4.75,4.75l-4.75,4.75l-4.75,-4.75zM464.8,392.0l4.75,4.75l-4.75,4.75l-4.75,-4.75zM467.3,392.2l4.75,4.75l-4.75,4.75l-4.75,-4.75zM469.8,392.3l4.75,4.75l-4.75,4.75l-4.75,-4.75zM472.3,392.3l4.75,4.75l-4.75,4.75l-4.75,-4.75zM474.8,391.8l4.75,4.75l-4.75,4.75l-4.75,-4.75zM477.3,392.2l4.75,4.75l-4.75,4.75l-4.75,-4.75zM479.8,392.3l4.75,4.75l-4.75,4.75l-4.75,-4.75zM482.3,392.0l4.75,4.75l-4.75,4.75l-4.75,-4.75zM484.8,392.5l4.75,4.75l-4.75,4.75l-4.75,-4.75zM487.3,392.6l4.75,4.75l-4.75,4.75l-4.75,-4.75zM489.8,392.8l4.75,4.75l-4.75,4.75l-4.75,-4.75zM492.3,392.9l4.75,4.75l-4.75,4.75l-4.75,-4.75zM494.8,392.3l4.75,4.75l-4.75,4.75l-4.75,-4.75zM497.3,392.5l4.75,4.75l-4.75,4.75l-4.75,-4.75zM499.8,392.8l4.75,4.75l-4.75,4.75l-4.75,-4.75zM502.3,392.5l4.75,4.75l-4.75,4.75l-4.75,-4.75zM504.8,392.6l4.75,4.75l-4.75,4.75l-4.75,-4.75zM507.3,392.9l4.75,4.75l-4.75,4.75l-4.75,-4.75zM509.8,392.6l4.75,4.75l-4.75,4.75l-4.75,-4.75zM512.3,393.1l4.75,4.75l-4.75,4.75l-4.75,-4.75zM514.8,393.2l4.75,4.75l-4.75,4.75l-4.75,-4.75zM517.3,392.6l4.75,4.75l-4.75,4.75l-4.75,-4.75zM519.8,393.0l4.75,4.75l-4.75,4.75l-4.75,-4.75zM522.3,393.2l4.75,4.75l-4.75,4.75l-4.75,-4.75zM524.8,393.4l4.75,4.75l-4.75,4.75l-4.75,-4.75zM527.3,392.9l4.75,4.75l-4.75,4.75l-4.75,-4.75zM529.8,392.9l4.75,4.75l-4.75,4.75l-4.75,-4.75zM532.3,393.4l4.75,4.75l-4.75,4.75l-4.75,-4.75zM534.8,393.5l4.75,4.75l-4.75,4.75l-4.75,-4.75zM537.3,393.0l4.75,4.75l-4.75,4.75l-4.75,-4.75zM539.8,393.2l4.75,4.75l-4.75,4.75l-4.75,-4.75zM542.3,393.4l4.75,4.75l-4.75,4.75l-4.75,-4.75zM544.8,393.5l4.75,4.75l-4.75,4.75l-4.75,-4.75zM547.3,393.1l4.75,4.75l-4.75,4.75l-4.75,-4.75zM549.8,393.5l4.75,4.75l-4.75,4.75l-4.75,-4.75zM552.3,393.6l4.75,4.75l-4.75,4.75l-4.75,-4.75zM554.8,393.4l4.75,4.75l-4.75,4.75l-4.75,-4.75zM557.3,393.2l4.75,4.75l-4.75,4.75l-4.75,-4.75zM559.8,393.2l4.75,4.75l-4.75,4.75l-4.75,-4.75zM562.3,393.3l4.75,4.75l-4.75,4.75l-4.75,-4.75zM564.8,393.7l4.75,4.75l-4.75,4.75l-4.75,-4.75zM567.3,393.2l4.75,4.75l-4.75,4.75l-4.75,-4.75zM569.8,393.2l4.75,4.75l-4.75,4.75l-4.75,-4.75zM572.3,393.5l4.75,4.75l-4.75,4.75l-4.75,-4.75zM574.8,393.3l4.75,4.75l-4.75,4.75l-4.75,-4.75zM577.3,393.4l4.75,4.75l-4.75,4.75l-4.75,-4.75zM579.8,393.3l4.75,4.75l-4.75,4.75l-4.75,-4.75zM582.3,393.7l4.75,4.75l-4.75,4.75l-4.75,-4.75zM584.8,393.8l4.75,4.75l-4.75,4.75l-4.75,-4.75zM587.3,393.6l4.75,4.75l-4.75,4.75l-4.75,-4.75zM589.8,393.5l4.75,4.75l-4.75,4.75l-4.75,-4.75zM592.3,393.6l4.75,4.75l-4.75,4.75l-4.75,-4.75zM594.8,393.8l4.75,4.75l-4.75,4.75l-4.75,-4.75zM597.3,394.0l4.75,4.75l-4.75,4.75l-4.75,-4.75zM599.8,394.1l4.75,4.75l-4.75,4.75l-4.75,-4.75zM602.3,393.6l4.75,4.75l-4.75,4.75l-4.75,-4.75zM604.8,393.5l4.75,4.75l-4.75,4.75l-4.75,-4.75zM607.3,394.0l4.75,4.75l-4.75,4.75l-4.75,-4.75zM609.8,394.1l4.75,4.75l-4.75,4.75l-4.75,-4.75zM612.3,393.8l4.75,4.75l-4.75,4.75l-4.75,-4.75zM614.8,394.0l4.75,4.75l-4.75,4.75l-4.75,-4.75zM617.3,394.1l4.75,4.75l-4.75,4.75l-4.75,-4.75zM619.8,394.0l4.75,4.75l-4.75,4.75l-4.75,-4.75zM622.3,394.1l4.75,4.75l-4.75,4.75l-4.75,-4.75zM624.8,393.7l4.75,4.75l-4.75,4.75l-4.75,-4.75zM627.3,393.8l4.75,4.75l-4.75,4.75l-4.75,-4.75zM629.8,393.8l4.75,4.75l-4.75,4.75l-4.75,-4.75zM632.3,393.8l4.75,4.75l-4.75,4.75l-4.75,-4.75zM634.8,394.2l4.75,4.75l-4.75,4.75l-4.75,-4.75zM637.3,393.7l4.75,4.75l-4.75,4.75l-4.75,-4.75zM639.8,394.1l4.75,4.75l-4.75,4.75l-4.75,-4.75zM642.3,393.8l4.75,4.75l-4.75,4.75l-4.75,-4.75zM644.8,394.0l4.75,4.75l-4.75,4.75l-4.75,-4.75zM647.3,394.0l4.75,4.75l-4.75,4.75l-4.75,-4.75zM649.8,393.9l4.75,4.75l-4.75,4.75l-4.75,-4.75z" fill="#1F497D"/>
<path d="M139.2,240.0l4.75,4.75l-4.75,4.75l-4.75,-4.75zM145.8,248.1l4.75,4.75l-4.75,4.75l-4.75,-4.75zM149.8,254.5l4.75,4.75l-4.75,4.75l-4.75,-4.75zM150.6,262.8l4.75,4.75l-4.75,4.75l-4.75,-4.75zM153.6,265.3l4.75,4.75l-4.75,4.75l-4.75,-4.75zM156.2,268.8l4.75,4.75l-4.75,4.75l-4.75,-4.75zM158.8,274.9l4.75,4.75l-4.75,4.75l-4.75,-4.75zM161.4,280.1l4.75,4.75l-4.75,4.75l-4.75,-4.75zM163.9,285.0l4.75,4.75l-4.75,4.75l-4.75,-4.75zM166.4,289.2l4.75,4.75l-4.75,4.75l-4.75,-4.75zM168.9,293.0l4.75,4.75l-4.75,4.75l-4.75,-4.75zM171.4,297.0l4.75,4.75l-4.75,4.75l-4.75,-4.75zM173.9,300.0l4.75,4.75l-4.75,4.75l-4.75,-4.75zM176.4,303.2l4.75,4.75l-4.75,4.75l-4.75,-4.75zM178.9,306.5l4.75,4.75l-4.75,4.75l-4.75,-4.75zM181.4,309.6l4.75,4.75l-4.75,4.75l-4.75,-4.75zM183.9,312.6l4.75,4.75l-4.75,4.75l-4.75,-4.75zM186.4,316.2l4.75,4.75l-4.75,4.75l-4.75,-4.75zM188.9,319.2l4.75,4.75l-4.75,4.75l-4.75,-4.75zM191.5,321.6l4.75,4.75l-4.75,4.75l-4.75,-4.75zM194.0,324.7l4.75,4.75l-4.75,4.75l-4.75,-4.75zM196.5,327.6l4.75,4.75l-4.75,4.75l-4.75,-4.75zM199.0,330.5l4.75,4.75l-4.75,4.75l-4.75,-4.75zM201.5,333.0l4.75,4.75l-4.75,4.75l-4.75,-4.75zM204.0,335.6l4.75,4.75l-4.75,4.75l-4.75,-4.75zM206.5,338.3l4.75,4.75l-4.75,4.75l-4.75,-4.75zM209.0,340.1l4.75,4.75l-4.75,4.75l-4.75,-4.75zM211.5,342.6l4.75,4.75l-4.75,4.75l-4.75,-4.75zM214.0,344.8l4.75,4.75l-4.75,4.75l-4.75,-4.75zM216.5,347.1l4.75,4.75l-4.75,4.75l-4.75,-4.75zM219.0,348.5l4.75,4.75l-4.75,4.75l-4.75,-4.75zM221.5,350.9l4.75,4.75l-4.75,4.75l-4.75,-4.75zM224.0,352.7l4.75,4.75l-4.75,4.75l-4.75,-4.75zM226.5,354.0l4.75,4.75l-4.75,4.75l-4.75,-4.75zM229.0,355.4l4.75,4.75l-4.75,4.75l-4.75,-4.75zM231.5,357.3l4.75,4.75l-4.75,4.75l-4.75,-4.75zM234.0,359.0l4.75,4.75l-4.75,4.75l-4.75,-4.75zM236.5,360.6l4.75,4.75l-4.75,4.75l-4.75,-4.75zM239.0,361.8l4.75,4.75l-4.75,4.75l-4.75,-4.75zM241.5,363.9l4.75,4.75l-4.75,4.75l-4.75,-4.75zM244.0,365.2l4.75,4.75l-4.75,4.75l-4.75,-4.75zM246.6,366.0l4.75,4.75l-4.75,4.75l-4.75,-4.75zM249.1,367.3l4.75,4.75l-4.75,4.75l-4.75,-4.75zM251.6,368.0l4.75,4.75l-4.75,4.75l-4.75,-4.75zM254.1,370.0l4.75,4.75l-4.75,4.75l-4.75,-4.75zM256.6,371.0l4.75,4.75l-4.75,4.75l-4.75,-4.75zM259.1,371.9l4.75,4.75l-4.75,4.75l-4.75,-4.75zM261.6,373.0l4.75,4.75l-4.75,4.75l-4.75,-4.75zM264.1,373.4l4.75,4.75l-4.75,4.75l-4.75,-4.75zM266.6,374.4l4.75,4.75l-4.75,4.75l-4.75,-4.75zM269.1,375.2l4.75,4.75l-4.75,4.75l-4.75,-4.75zM271.6,376.2l4.75,4.75l-4.75,4.75l-4.75,-4.75zM274.1,376.6l4.75,4.75l-4.75,4.75l-4.75,-4.75zM276.6,378.0l4.75,4.75l-4.75,4.75l-4.75,-4.75zM279.1,378.4l4.75,4.75l-4.75,4.75l-4.75,-4.75zM281.6,379.0l4.75,4.75l-4.75,4.75l-4.75,-4.75zM284.1,379.3l4.75,4.75l-4.75,4.75l-4.75,-4.75zM286.6,380.3l4.75,4.75l-4.75,4.75l-4.75,-4.75zM289.1,380.9l4.75,4.75l-4.75,4.75l-4.75,-4.75zM291.6,381.3l4.75,4.75l-4.75,4.75l-4.75,-4.75zM294.1,381.6l4.75,4.75l-4.75,4.75l-4.75,-4.75zM296.6,382.6l4.75,4.75l-4.75,4.75l-4.75,-4.75zM299.2,382.6l4.75,4.75l-4.75,4.75l-4.75,-4.75zM301.7,383.5l4.75,4.75l-4.75,4.75l-4.75,-4.75zM304.2,383.7l4.75,4.75l-4.75,4.75l-4.75,-4.75zM306.7,383.8l4.75,4.75l-4.75,4.75l-4.75,-4.75zM309.2,384.4l4.75,4.75l-4.75,4.75l-4.75,-4.75zM311.7,384.8l4.75,4.75l-4.75,4.75l-4.75,-4.75zM314.2,384.8l4.75,4.75l-4.75,4.75l-4.75,-4.75zM316.7,385.6l4.75,4.75l-4.75,4.75l-4.75,-4.75zM319.2,385.5l4.75,4.75l-4.75,4.75l-4.75,-4.75zM321.7,386.2l4.75,4.75l-4.75,4.75l-4.75,-4.75zM324.2,386.4l4.75,4.75l-4.75,4.75l-4.75,-4.75zM326.7,386.1l4.75,4.75l-4.75,4.75l-4.75,-4.75zM329.2,386.8l4.75,4.75l-4.75,4.75l-4.75,-4.75zM331.7,386.8l4.75,4.75l-4.75,4.75l-4.75,-4.75zM334.2,387.4l4.75,4.75l-4.75,4.75l-4.75,-4.75zM336.7,387.5l4.75,4.75l-4.75,4.75l-4.75,-4.75zM339.2,387.7l4.75,4.75l-4.75,4.75l-4.75,-4.75zM341.7,388.3l4.75,4.75l-4.75,4.75l-4.75,-4.75zM344.2,387.9l4.75,4.75l-4.75,4.75l-4.75,-4.75zM346.7,388.5l4.75,4.75l-4.75,4.75l-4.75,-4.75zM349.2,388.6l4.75,4.75l-4.75,4.75l-4.75,-4.75zM351.7,388.5l4.75,4.75l-4.75,4.75l-4.75,-4.75zM354.3,389.2l4.75,4.75l-4.75,4.75l-4.75,-4.75zM356.8,389.2l4.75,4.75l-4.75,4.75l-4.75,-4.75zM359.3,389.6l4.75,4.75l-4.75,4.75l-4.75,-4.75zM361.8,389.6l4.75,4.75l-4.75,4.75l-4.75,-4.75zM364.3,389.5l4.75,4.75l-4.75,4.75l-4.75,-4.75zM366.8,390.2l4.75,4.75l-4.75,4.75l-4.75,-4.75zM369.3,389.6l4.75,4.75l-4.75,4.75l-4.75,-4.75zM371.8,389.7l4.75,4.75l-4.75,4.75l-4.75,-4.75zM374.3,390.4l4.75,4.75l-4.75,4.75l-4.75,-4.75zM376.8,390.2l4.75,4.75l-4.75,4.75l-4.75,-4.75zM379.3,390.3l4.75,4.75l-4.75,4.75l-4.75,-4.75zM381.8,390.8l4.75,4.75l-4.75,4.75l-4.75,-4.75zM384.3,390.5l4.75,4.75l-4.75,4.75l-4.75,-4.75zM386.8,391.0l4.75,4.75l-4.75,4.75l-4.75,-4.75zM389.3,390.9l4.75,4.75l-4.75,4.75l-4.75,-4.75zM391.8,390.7l4.75,4.75l-4.75,4.75l-4.75,-4.75zM394.3,390.6l4.75,4.75l-4.75,4.75l-4.75,-4.75zM396.8,390.9l4.75,4.75l-4.75,4.75l-4.75,-4.75zM399.3,391.5l4.75,4.75l-4.75,4.75l-4.75,-4.75zM401.8,391.2l4.75,4.75l-4.75,4.75l-4.75,-4.75zM404.3,391.1l4.75,4.75l-4.75,4.75l-4.75,-4.75zM406.9,391.2l4.75,4.75l-4.75,4.75l-4.75,-4.75zM409.4,391.7l4.75,4.75l-4.75,4.75l-4.75,-4.75zM411.9,391.3l4.75,4.75l-4.75,4.75l-4.75,-4.75zM414.4,391.8l4.75,4.75l-4.75,4.75l-4.75,-4.75zM416.9,391.4l4.75,4.75l-4.75,4.75l-4.75,-4.75zM419.4,392.0l4.75,4.75l-4.75,4.75l-4.75,-4.75zM421.9,391.8l4.75,4.75l-4.75,4.75l-4.75,-4.75zM424.4,391.6l4.75,4.75l-4.75,4.75l-4.75,-4.75zM426.9,392.2l4.75,4.75l-4.75,4.75l-4.75,-4.75zM429.4,391.9l4.75,4.75l-4.75,4.75l-4.75,-4.75zM431.9,392.2l4.75,4.75l-4.75,4.75l-4.75,-4.75zM434.4,392.1l4.75,4.75l-4.75,4.75l-4.75,-4.75zM436.9,391.9l4.75,4.75l-4.75,4.75l-4.75,-4.75zM439.4,392.0l4.75,4.75l-4.75,4.75l-4.75,-4.75zM441.9,392.1l4.75,4.75l-4.75,4.75l-4.75,-4.75zM444.4,392.2l4.75,4.75l-4.75,4.75l-4.75,-4.75zM446.9,392.1l4.75,4.75l-4.75,4.75l-4.75,-4.75zM449.4,392.2l4.75,4.75l-4.75,4.75l-4.75,-4.75zM451.9,392.8l4.75,4.75l-4.75,4.75l-4.75,-4.75zM454.4,392.3l4.75,4.75l-4.75,4.75l-4.75,-4.75zM456.9,392.7l4.75,4.75l-4.75,4.75l-4.75,-4.75zM459.4,392.5l4.75,4.75l-4.75,4.75l-4.75,-4.75zM462.0,392.6l4.75,4.75l-4.75,4.75l-4.75,-4.75zM464.5,392.9l4.75,4.75l-4.75,4.75l-4.75,-4.75zM467.0,393.1l4.75,4.75l-4.75,4.75l-4.75,-4.75zM469.5,392.9l4.75,4.75l-4.75,4.75l-4.75,-4.75zM472.0,392.7l4.75,4.75l-4.75,4.75l-4.75,-4.75zM474.5,393.3l4.75,4.75l-4.75,4.75l-4.75,-4.75zM477.0,392.8l4.75,4.75l-4.75,4.75l-4.75,-4.75zM479.5,393.0l4.75,4.75l-4.75,4.75l-4.75,-4.75zM482.0,393.1l4.75,4.75l-4.75,4.75l-4.75,-4.75zM484.5,393.3l4.75,4.75l-4.75,4.75l-4.75,-4.75zM487.0,393.3l4.75,4.75l-4.75,4.75l-4.75,-4.75zM489.5,393.3l4.75,4.75l-4.75,4.75l-4.75,-4.75zM492.0,393.2l4.75,4.75l-4.75,4.75l-4.75,-4.75zM494.5,393.4l4.75,4.75l-4.75,4.75l-4.75,-4.75zM497.0,393.5l4.75,4.75l-4.75,4.75l-4.75,-4.75zM499.5,393.5l4.75,4.75l-4.75,4.75l-4.75,-4.75zM502.0,393.5l4.75,4.75l-4.75,4.75l-4.75,-4.75zM504.5,393.2l4.75,4.75l-4.75,4.75l-4.75,-4.75zM507.0,393.3l4.75,4.75l-4.75,4.75l-4.75,-4.75zM509.5,393.4l4.75,4.75l-4.75,4.75l-4.75,-4.75zM512.0,393.5l4.75,4.75l-4.75,4.75l-4.75,-4.75zM514.5,393.7l4.75,4.75l-4.75,4.75l-4.75,-4.75zM517.1,393.4l4.75,4.75l-4.75,4.75l-4.75,-4.75zM519.6,393.6l4.75,4.75l-4.75,4.75l-4.75,-4.75zM522.1,393.5l4.75,4.75l-4.75,4.75l-4.75,-4.75zM524.6,393.7l4.75,4.75l-4.75,4.75l-4.75,-4.75zM527.1,393.5l4.75,4.75l-4.75,4.75l-4.75,-4.75zM529.6,393.6l4.75,4.75l-4.75,4.75l-4.75,-4.75zM532.1,393.5l4.75,4.75l-4.75,4.75l-4.75,-4.75zM534.6,393.5l4.75,4.75l-4.75,4.75l-4.75,-4.75zM537.1,393.9l4.75,4.75l-4.75,4.75l-4.75,-4.75zM539.6,393.6l4.75,4.75l-4.75,4.75l-4.75,-4.75zM542.1,393.9l4.75,4.75l-4.75,4.75l-4.75,-4.75zM544.6,393.8l4.75,4.75l-4.75,4.75l-4.75,-4.75zM547.1,393.5l4.75,4.75l-4.75,4.75l-4.75,-4.75zM549.6,393.9l4.75,4.75l-4.75,4.75l-4.75,-4.75zM552.1,393.6l4.75,4.75l-4.75,4.75l-4.75,-4.75zM554.6,394.0l4.75,4.75l-4.75,4.75l-4.75,-4.75zM557.1,393.6l4.75,4.75l-4.75,4.75l-4.75,-4.75zM559.6,393.9l4.75,4.75l-4.75,4.75l-4.75,-4.75zM562.1,393.7l4.75,4.75l-4.75,4.75l-4.75,-4.75zM564.6,393.8l4.75,4.75l-4.75,4.75l-4.75,-4.75zM567.1,394.1l4.75,4.75l-4.75,4.75l-4.75,-4.75zM569.7,393.9l4.75,4.75l-4.75,4.75l-4.75,-4.75zM572.2,394.0l4.75,4.75l-4.75,4.75l-4.75,-4.75zM574.7,394.0l4.75,4.75l-4.75,4.75l-4.75,-4.75zM577.2,393.8l4.75,4.75l-4.75,4.75l-4.75,-4.75zM579.7,394.1l4.75,4.75l-4.75,4.75l-4.75,-4.75zM582.2,394.2l4.75,4.75l-4.75,4.75l-4.75,-4.75zM584.7,393.8l4.75,4.75l-4.75,4.75l-4.75,-4.75zM587.2,394.0l4.75,4.75l-4.75,4.75l-4.75,-4.75zM589.7,393.9l4.75,4.75l-4.75,4.75l-4.75,-4.75zM592.2,394.1l4.75,4.75l-4.75,4.75l-4.75,-4.75zM594.7,393.8l4.75,4.75l-4.75,4.75l-4.75,-4.75zM597.2,394.1l4.75,4.75l-4.75,4.75l-4.75,-4.75zM599.7,394.2l4.75,4.75l-4.75,4.75l-4.75,-4.75zM602.2,394.2l4.75,4.75l-4.75,4.75l-4.75,-4.75zM604.7,393.9l4.75,4.75l-4.75,4.75l-4.75,-4.75zM607.2,394.3l4.75,4.75l-4.75,4.75l-4.75,-4.75zM609.7,394.0l4.75,4.75l-4.75,4.75l-4.75,-4.75zM612.2,394.3l4.75,4.75l-4.75,4.75l-4.75,-4.75zM614.7,394.1l4.75,4.75l-4.75,4.75l-4.75,-4.75zM617.2,394.0l4.75,4.75l-4.75,4.75l-4.75,-4.75zM619.7,394.3l4.75,4.75l-4.75,4.75l-4.75,-4.75zM622.2,394.3l4.75,4.75l-4.75,4.75l-4.75,-4.75zM624.8,394.3l4.75,4.75l-4.75,4.75l-4.75,-4.75zM627.3,394.4l4.75,4.75l-4.75,4.75l-4.75,-4.75zM629.8,394.1l4.75,4.75l-4.75,4.75l-4.75,-4.75zM632.3,394.1l4.75,4.75l-4.75,4.75l-4.75,-4.75zM634.8,394.1l4.75,4.75l-4.75,4.75l-4.75,-4.75zM637.3,394.2l4.75,4.75l-4.75,4.75l-4.75,-4.75zM639.8,394.2l4.75,4.75l-4.75,4.75l-4.75,-4.75zM642.3,394.2l4.75,4.75l-4.75,4.75l-4.75,-4.75zM644.8,394.2l4.75,4.75l-4.75,4.75l-4.75,-4.75zM647.3,394.1l4.75,4.75l-4.75,4.75l-4.75,-4.75zM649.8,394.0l4.75,4.75l-4.75,4.75l-4.75,-4.75z" fill="#FF00FF"/>
<rect x="605" y="9" width="65.5" height="142" fill="#fff" stroke="#5f5f5f" stroke-width="1.9"/>
<path d="M619.4,19.5l3.8,3.8l-3.8,3.8l-3.8,-3.8z" fill="#00CC00"/>
<text x="627.3" y="27.8" font-family="'Liberation Serif',serif" font-weight="bold" font-size="14px" fill="#000">STC1</text>
<path d="M619.4,47.8l3.8,3.8l-3.8,3.8l-3.8,-3.8z" fill="#FF0000"/>
<text x="627.3" y="56.1" font-family="'Liberation Serif',serif" font-weight="bold" font-size="14px" fill="#000">STC2</text>
<path d="M619.4,76.2l3.8,3.8l-3.8,3.8l-3.8,-3.8z" fill="#00CCFF"/>
<text x="627.3" y="84.5" font-family="'Liberation Serif',serif" font-weight="bold" font-size="14px" fill="#000">STC3</text>
<path d="M619.4,104.5l3.8,3.8l-3.8,3.8l-3.8,-3.8z" fill="#1F497D"/>
<text x="627.3" y="112.8" font-family="'Liberation Serif',serif" font-weight="bold" font-size="14px" fill="#000">STC4</text>
<path d="M619.4,132.8l3.8,3.8l-3.8,3.8l-3.8,-3.8z" fill="#FF00FF"/>
<text x="627.3" y="141.1" font-family="'Liberation Serif',serif" font-weight="bold" font-size="14px" fill="#000">STC5</text>
<text x="57.5" y="404.9" text-anchor="end" font-family="'Liberation Serif',serif" font-size="18px" fill="#000">0</text>
<text x="57.5" y="348.9" text-anchor="end" font-family="'Liberation Serif',serif" font-size="18px" fill="#000">0.2</text>
<text x="57.5" y="292.9" text-anchor="end" font-family="'Liberation Serif',serif" font-size="18px" fill="#000">0.4</text>
<text x="57.5" y="236.9" text-anchor="end" font-family="'Liberation Serif',serif" font-size="18px" fill="#000">0.6</text>
<text x="57.5" y="180.9" text-anchor="end" font-family="'Liberation Serif',serif" font-size="18px" fill="#000">0.8</text>
<text x="57.5" y="124.9" text-anchor="end" font-family="'Liberation Serif',serif" font-size="18px" fill="#000">1</text>
<text x="57.5" y="68.9" text-anchor="end" font-family="'Liberation Serif',serif" font-size="18px" fill="#000">1.2</text>
<text x="57.5" y="12.9" text-anchor="end" font-family="'Liberation Serif',serif" font-size="18px" fill="#000">1.4</text>
<text x="75.7" y="430" text-anchor="middle" font-family="'Liberation Serif',serif" font-size="18px" fill="#000">1.5</text>
<text x="135.6" y="430" text-anchor="middle" font-family="'Liberation Serif',serif" font-size="18px" fill="#000">2</text>
<text x="195.4" y="430" text-anchor="middle" font-family="'Liberation Serif',serif" font-size="18px" fill="#000">2.5</text>
<text x="255.3" y="430" text-anchor="middle" font-family="'Liberation Serif',serif" font-size="18px" fill="#000">3</text>
<text x="315.1" y="430" text-anchor="middle" font-family="'Liberation Serif',serif" font-size="18px" fill="#000">3.5</text>
<text x="374.9" y="430" text-anchor="middle" font-family="'Liberation Serif',serif" font-size="18px" fill="#000">4</text>
<text x="434.8" y="430" text-anchor="middle" font-family="'Liberation Serif',serif" font-size="18px" fill="#000">4.5</text>
<text x="494.7" y="430" text-anchor="middle" font-family="'Liberation Serif',serif" font-size="18px" fill="#000">5</text>
<text x="554.5" y="430" text-anchor="middle" font-family="'Liberation Serif',serif" font-size="18px" fill="#000">5.5</text>
<text x="614.3" y="430" text-anchor="middle" font-family="'Liberation Serif',serif" font-size="18px" fill="#000">6</text>
<text x="674.2" y="430" text-anchor="middle" font-family="'Liberation Serif',serif" font-size="18px" fill="#000">6.5</text>
<text transform="translate(329.4,454.8) scale(1,1.05)" font-family="'Liberation Serif',serif" font-weight="bold" font-size="22.4px" fill="#000">Log (<tspan font-style="italic" font-weight="normal" font-size="23px">f</tspan>)</text>
<text transform="translate(28.2,65.8) rotate(-90) scale(1,1.09)" font-family="'Liberation Serif',serif" font-weight="bold" font-size="16.4px" fill="#000">x 10000</text>
<text transform="translate(21.5,215.5) rotate(-90)" font-family="'Liberation Serif',serif" font-weight="bold" font-style="italic" font-size="30px" fill="#000">ε<tspan dx="1.3" dy="-1.7" font-size="29px">′</tspan></text>
</svg>
</body></html>
